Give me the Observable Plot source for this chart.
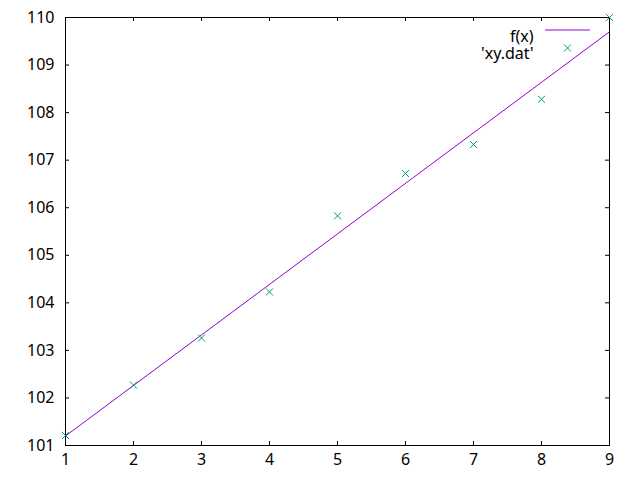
<!DOCTYPE html>
<html>
<head>
<meta charset="utf-8">
<script src="https://cdn.jsdelivr.net/npm/d3@7"></script>
<script src="https://cdn.jsdelivr.net/npm/@observablehq/plot@0.6"></script>
<style>
  html, body { margin: 0; padding: 0; background: #fff; }
  #chart svg { display: block; }
</style>
</head>
<body>
<div id="chart"></div>
<script>
// data points from 'xy.dat'
const xs = [1, 2, 3, 4, 5, 6, 7, 8, 9];
const ys = [101.21, 102.27, 103.26, 104.23, 105.83, 106.72, 107.33, 108.28, 110.0];
// fitted line f(x), endpoints
const fx = [1, 9];
const fy = [101.2, 109.7];
// ticks
const xTicks = [1, 2, 3, 4, 5, 6, 7, 8, 9];
const yTicks = [101, 102, 103, 104, 105, 106, 107, 108, 109, 110];
// legend
const legendLabels = ["f(x)", "'xy.dat'"];
const lineColor = "#9400d3";
const pointColor = "#009e73";

const points = xs.map((x, i) => ({x, y: ys[i]}));
const line = fx.map((x, i) => ({x, y: fy[i]}));

const font = "Noto Sans, sans-serif";
const fs = 16;
const W = 640, H = 480, mL = 65, mR = 31, mT = 17, mB = 35;
const fw = W - mL - mR, fh = H - mT - mB, tick = 4;

const chart = Plot.plot({
  width: W,
  height: H,
  marginLeft: mL,
  marginRight: mR,
  marginTop: mT,
  marginBottom: mB,
  style: {fontFamily: font, fontSize: fs + "px", color: "#000", background: "#fff"},
  x: {domain: [1, 9], ticks: xTicks},
  y: {domain: [101, 110], ticks: yTicks},
  marks: [
    // inward ticks, all four sides
    Plot.tickX(xTicks, {x: d => d, insetTop: fh - tick, stroke: "#000"}),
    Plot.tickX(xTicks, {x: d => d, insetBottom: fh - tick, stroke: "#000"}),
    Plot.tickY(yTicks, {y: d => d, insetRight: fw - tick, stroke: "#000"}),
    Plot.tickY(yTicks, {y: d => d, insetLeft: fw - tick, stroke: "#000"}),
    Plot.frame({stroke: "#000", strokeWidth: 1}),
    // labels
    Plot.axisX(xTicks, {anchor: "bottom", tickSize: 0, tickPadding: 8, label: null, fontSize: fs}),
    Plot.axisY(yTicks, {anchor: "left", tickSize: 0, tickPadding: 11, label: null, fontSize: fs}),
    Plot.line(line, {x: "x", y: "y", stroke: lineColor, strokeWidth: 1}),
    Plot.dot(points, {x: "x", y: "y", symbol: "times", r: 3.3, stroke: pointColor, strokeWidth: 1}),
    // legend
    Plot.text([legendLabels[0]], {text: d => d, frameAnchor: "top-right", dx: -76, dy: 13, textAnchor: "end", fontSize: fs}),
    Plot.text([legendLabels[1]], {text: d => d, frameAnchor: "top-right", dx: -76, dy: 30, textAnchor: "end", fontSize: fs}),
    Plot.dot([legendLabels[1]], {frameAnchor: "top-right", dx: -42, dy: 30.5, symbol: "times", r: 3.3, stroke: pointColor, strokeWidth: 1})
  ]
});

// legend sample line for f(x)
const svg = d3.select(chart);
svg.append("line")
  .attr("x1", W - mR - 64).attr("x2", W - mR - 19)
  .attr("y1", mT + 13).attr("y2", mT + 13)
  .attr("stroke", lineColor).attr("stroke-width", 1);

document.getElementById("chart").appendChild(chart);
</script>
</body>
</html>
